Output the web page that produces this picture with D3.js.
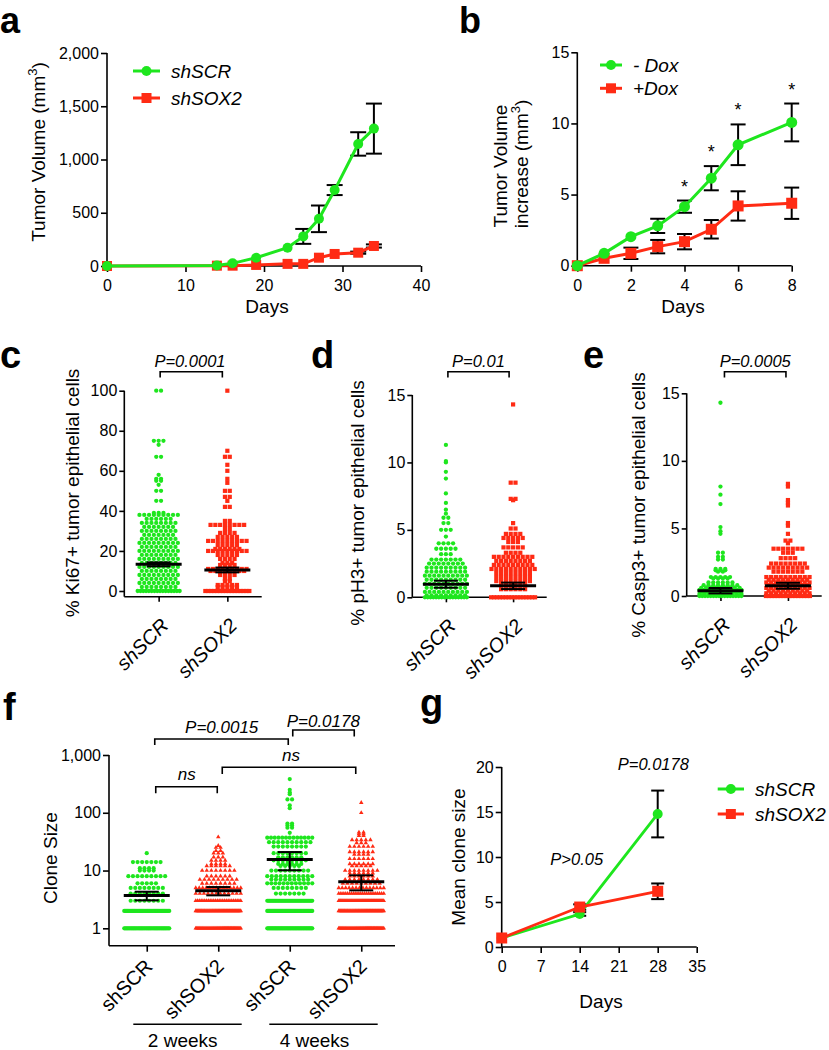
<!DOCTYPE html>
<html><head><meta charset="utf-8">
<script src="https://cdn.jsdelivr.net/npm/d3@7"></script>
<style>
body{margin:0;background:#fff}
svg text{font-family:"Liberation Sans",Arial,sans-serif;fill:#000}
</style></head><body>
<svg id="fig" width="829" height="1050" xmlns="http://www.w3.org/2000/svg"></svg>
<script>
// ---------- DATA ----------
// panel a
const aDays = [0, 14, 16, 19, 23, 25, 27, 29, 32, 34];
const aSCR = [0, 5, 25, 78, 172, 278, 443, 713, 1146, 1290];
const aSCRerr = [0, 0, 0, 0, 0, 70, 125, 47, 110, 235];
const aSOX2 = [0, 3, 3, 10, 20, 20, 78, 113, 125, 188];
const aSOX2err = [0, 0, 0, 0, 0, 0, 0, 0, 10, 15];
const aXTicks = [0, 10, 20, 30, 40];
const aYTicks = [0, 500, 1000, 1500, 2000];
// panel b
const bDays = [0, 1, 2, 3, 4, 5, 6, 8];
const bMinusDox = [0, 0.87, 2.04, 2.8, 4.15, 6.15, 8.5, 10.07];
const bMinusErr = [0, 0, 0, 0.5, 0.43, 0.85, 1.43, 1.33];
const bPlusDox = [0, 0.52, 0.87, 1.34, 1.69, 2.56, 4.2, 4.39];
const bPlusErr = [0, 0, 0.4, 0.47, 0.54, 0.65, 1.03, 1.1];
const bStarDays = [4, 5, 6, 8];
const bXTicks = [0, 2, 4, 6, 8];
const bYTicks = [0, 5, 10, 15];
// panels c, d, e : [value, number of cells at that value]
const groups2 = ["shSCR", "shSOX2"];
const ki67SCR = [[100,2],[75,3],[73,1],[67,2],[58,1],[56,2],[55,2],[53,1],[50,2],[45,2],
  [39,3],[38,9],[36,6],[34,8],[32,7],[30,8],[28,7],[26,8],[24,9],[22,8],[20,9],[18,8],[16,9],
  [14,8],[12,9],[10,8],[8,9],[6,8],[4,9],[2,8],[0,16]];
const ki67SOX2 = [[100,1],[70,1],[67,2],[63,1],[60,1],[56,1],[54,1],[50,2],[47,2],[45,1],[42,2],
  [35,2],[33,8],[31,2],[29,4],[27,5],[25,9],[23,5],[21,6],[20,9],[18,5],[16,4],[14,3],
  [13,4],[11,9],[10,8],[8,4],[6,2],[5,2],[3,5],[2,5],[0,16]];
const ki67Mean = [13.3, 10.5], ki67Sem = [1.0, 1.2];
const ki67Ticks = [0, 20, 40, 60, 80, 100];
const ph3SCR = [[11.3,1],[10.1,1],[10,1],[9.3,1],[8.8,1],[7.7,1],[7,1],[6.5,1],[6.2,1],[5.9,2],[5.5,2],
  [5,3],[4.5,1],[4,4],[3.6,5],[3.2,3],[2.8,7],[2.5,8],[2.2,9],[1.9,9],[1.6,10],[1.3,9],
  [1.0,10],[0.7,9],[0.4,10],[0.15,9],[0,16]];
const ph3SOX2 = [[14.3,1],[8.5,2],[7.3,2],[7.2,1],[5.5,1],[5.1,2],[4.7,4],[4.4,5],[4.1,3],
  [3.7,5],[3.3,4],[3.0,9],[2.7,8],[2.4,9],[2.1,10],[1.8,8],[1.5,8],[1.2,8],[0.9,6],[0.6,6],[0,16]];
const ph3Mean = [0.97, 0.85], ph3Sem = [0.26, 0.24];
const casp3SCR = [[14.3,1],[8.1,1],[7.5,1],[6.8,1],[5.1,1],[4.8,1],[4.6,1],[3.2,2],[2.9,2],[2.7,2],
  [2.0,3],[1.9,3],[1.8,2],[1.4,5],[1.3,4],[1.0,6],[0.8,8],[0.6,9],[0.45,10],[0.3,9],[0.15,10],[0,16]];
const casp3SOX2 = [[8.3,1],[8.1,1],[7.1,1],[6.9,1],[6.7,1],[5.4,1],[5.2,1],[4.6,1],[4.1,2],[3.9,1],
  [3.5,7],[3.2,3],[2.8,4],[2.4,8],[2.1,9],[1.8,7],[1.4,10],[1.2,9],[1.0,10],[0.8,9],
  [0.6,10],[0.4,9],[0.2,10],[0,16]];
const casp3Mean = [0.39, 0.76], casp3Sem = [0.2, 0.22];
const smallTicks = [0, 5, 10, 15];
// panel f : clone sizes [size, number of clones]
const fGroups = ["shSCR 2w", "shSOX2 2w", "shSCR 4w", "shSOX2 4w"];
const fLabels = ["shSCR", "shSOX2", "shSCR", "shSOX2"];
const clone2wSCR = [[20,1],[14,7],[11,4],[10,4],[8,9],[6,5],[5,8],[4,8],[3,8],[2,40],[1,40]];
const clone2wSOX2 = [[38,1],[27,1],[25,2],[22,2],[20,3],[17,3],[15,4],[13,4],[12,6],[10,8],
  [8,6],[7,9],[6,8],[5,14],[4,12],[3,26],[2,45],[1,45]];
const clone4wSCR = [[383,1],[250,1],[225,1],[210,1],[170,2],[135,1],[120,1],[65,2],[60,2],[55,2],[45,1],
  [37,13],[31,10],[26,8],[20,8],[17,6],[15,8],[13,6],[12,5],[10,9],[8,11],[7,9],[6,12],[5,8],[4,7],
  [3,45],[2,45],[1,45]];
const clone4wSOX2 = [[150,1],[100,1],[46,2],[43,2],[40,2],[34,5],[30,3],[26,6],[21,6],[19,4],[16,6],
  [13,6],[12,5],[10,8],[9,6],[8,6],[7,8],[6,9],[5,14],[4,22],[3,45],[2,45],[1,45]];
const fMean = [3.7, 4.47, 15.6, 6.4];
const fLow = [3.05, 3.72, 10.1, 4.54];
const fHigh = [4.3, 5.18, 20.9, 8.26];
const fTicks = [1, 10, 100, 1000];
// panel g
const gDays = [0, 14, 28];
const gSCR = [1, 3.67, 14.78], gSCRerr = [0, 0.2, 2.6];
const gSOX2 = [1, 4.44, 6.19], gSOX2err = [0, 0.3, 0.87];
const gXTicks = [0, 7, 14, 21, 28, 35];
const gYTicks = [0, 5, 10, 15, 20];

// ---------- STYLE ----------
const GREEN = "#1ee61e", RED = "#ff2b14";
const FONT = '"Liberation Sans", Arial, sans-serif';
const svg = d3.select("#fig");

function txt(g, x, y, s, opts = {}) {
  const t = g.append("text").attr("x", x).attr("y", y).text(s)
    .attr("font-size", opts.size || 19)
    .attr("text-anchor", opts.anchor || "start");
  if (opts.italic) t.attr("font-style", "italic");
  if (opts.bold) t.attr("font-weight", "bold");
  if (opts.rotate !== undefined) t.attr("transform", `rotate(${opts.rotate},${x},${y})`);
  return t;
}
function styleAxis(ax) {
  ax.attr("font-size", 16).attr("font-family", FONT);
  ax.select(".domain").remove();
  ax.selectAll(".tick line").attr("stroke", "#000").attr("stroke-width", 1.6);
  ax.selectAll(".tick text").attr("fill", "#000");
}
function yAxis(g, scale, x, ticks, fmt, yTop, yBot, tick = 6, pad = 2) {
  const ax = g.append("g").attr("transform", `translate(${x},0)`)
    .call(d3.axisLeft(scale).tickValues(ticks).tickFormat(fmt).tickSize(tick).tickPadding(pad).tickSizeOuter(0));
  styleAxis(ax);
  g.append("line").attr("x1", x).attr("x2", x).attr("y1", yTop).attr("y2", yBot)
    .attr("stroke", "#000").attr("stroke-width", 1.6);
}
function xAxis(g, scale, y, ticks, fmt, xL, xR, tick = 6, pad = 8) {
  const axis = d3.axisBottom(scale).tickSize(tick).tickPadding(pad).tickSizeOuter(0).tickFormat(fmt);
  if (ticks) axis.tickValues(ticks);
  const ax = g.append("g").attr("transform", `translate(0,${y})`).call(axis);
  styleAxis(ax);
  g.append("line").attr("x1", xL).attr("x2", xR).attr("y1", y).attr("y2", y)
    .attr("stroke", "#000").attr("stroke-width", 1.6);
}
function errBars(g, xs, ys, means, errs, xsVals, cap) {
  means.forEach((m, i) => {
    const e = errs[i]; if (!e) return;
    const x = xs(xsVals[i]);
    const y1 = ys(m - e), y2 = ys(m + e);
    g.append("line").attr("x1", x).attr("x2", x).attr("y1", y1).attr("y2", y2).attr("stroke", "#000").attr("stroke-width", 2);
    [y1, y2].forEach(yy => g.append("line").attr("x1", x - cap).attr("x2", x + cap).attr("y1", yy).attr("y2", yy)
      .attr("stroke", "#000").attr("stroke-width", 2));
  });
}
function series(g, xs, ys, xv, yv, color, shape, size, lw = 3) {
  const pts = xv.map((d, i) => [d, yv[i]]);
  g.append("path").attr("d", d3.line().x(d => xs(d[0])).y(d => ys(d[1]))(pts))
    .attr("fill", "none").attr("stroke", color).attr("stroke-width", lw);
  const sel = g.selectAll(null).data(pts);
  if (shape === "circle") {
    sel.enter().append("circle").attr("cx", d => xs(d[0])).attr("cy", d => ys(d[1])).attr("r", size / 2).attr("fill", color);
  } else {
    sel.enter().append("rect").attr("x", d => xs(d[0]) - size / 2).attr("y", d => ys(d[1]) - size / 2)
      .attr("width", size).attr("height", size).attr("fill", color);
  }
}
function legendItem(g, x1, x2, y, color, shape, size, label, fs = 19) {
  g.append("line").attr("x1", x1).attr("x2", x2).attr("y1", y).attr("y2", y).attr("stroke", color).attr("stroke-width", 3);
  const cx = (x1 + x2) / 2;
  if (shape === "circle") g.append("circle").attr("cx", cx).attr("cy", y).attr("r", size / 2).attr("fill", color);
  else g.append("rect").attr("x", cx - size / 2).attr("y", y - size / 2).attr("width", size).attr("height", size).attr("fill", color);
  txt(g, x2 + 11, y + 7, label, { italic: true, size: fs });
}
function bracket(g, x1, x2, yTop, yBot) {
  g.append("path").attr("d", `M${x1},${yBot}V${yTop}H${x2}V${yBot}`).attr("fill", "none")
    .attr("stroke", "#000").attr("stroke-width", 1.6);
}
// swarm rows: horizontal rows of markers centred at cx, compressed when too wide
function swarmPoints(rows, cx, ys, halfW, spacing) {
  const pts = [];
  rows.forEach(([v, n]) => {
    let sp = spacing;
    if ((n - 1) * sp > 2 * halfW) sp = 2 * halfW / (n - 1);
    for (let i = 0; i < n; i++) pts.push({ x: cx - (n - 1) * sp / 2 + i * sp, y: ys(v) });
  });
  return pts;
}
function drawPts(g, pts, shape, color, size) {
  const sel = g.selectAll(null).data(pts).enter();
  if (shape === "circle") sel.append("circle").attr("cx", d => d.x).attr("cy", d => d.y).attr("r", size / 2).attr("fill", color);
  else if (shape === "square") sel.append("rect").attr("x", d => d.x - size / 2).attr("y", d => d.y - size / 2).attr("width", size).attr("height", size).attr("fill", color);
  else sel.append("path").attr("d", d3.symbol(d3.symbolTriangle, size * size * 0.5)).attr("transform", d => `translate(${d.x},${d.y})`).attr("fill", color);
}
function meanSem(g, cx, ys, m, lo, hi, halfW = 23, cap = 12) {
  g.append("line").attr("x1", cx).attr("x2", cx).attr("y1", ys(lo)).attr("y2", ys(hi)).attr("stroke", "#000").attr("stroke-width", 2);
  [lo, hi].forEach(v => g.append("line").attr("x1", cx - cap).attr("x2", cx + cap).attr("y1", ys(v)).attr("y2", ys(v)).attr("stroke", "#000").attr("stroke-width", 2));
  g.append("line").attr("x1", cx - halfW).attr("x2", cx + halfW).attr("y1", ys(m)).attr("y2", ys(m)).attr("stroke", "#000").attr("stroke-width", 3);
}
function yLabel(g, x, y, s, size = 19) {
  return txt(g, x, y, s, { anchor: "middle", rotate: -90, size });
}

// ---------- PANEL a ----------
{
  const g = svg.append("g");
  const xs = d3.scaleLinear([0, 40], [107, 421]);
  const ys = d3.scaleLinear([0, 2000], [266, 53]);
  yAxis(g, ys, 107, aYTicks, d3.format(","), 53, 266);
  xAxis(g, xs, 266, aXTicks, d3.format("d"), 107, 421);
  errBars(g, xs, ys, aSCR, aSCRerr, aDays, 8);
  errBars(g, xs, ys, aSOX2, aSOX2err, aDays, 8);
  series(g, xs, ys, aDays, aSOX2, RED, "square", 10);
  series(g, xs, ys, aDays, aSCR, GREEN, "circle", 10);
  legendItem(g, 133, 160, 71, GREEN, "circle", 10, "shSCR");
  legendItem(g, 133, 160, 98, RED, "square", 10, "shSOX2");
  txt(g, 267, 313, "Days", { anchor: "middle" });
  const t = yLabel(g, 45, 152, "Tumor Volume (mm");
  t.append("tspan").text("3").attr("font-size", 13).attr("dy", -8);
  t.append("tspan").text(")").attr("font-size", 19).attr("dy", 8);
  txt(g, 0, 33, "a", { bold: true, size: 36 });
}
// ---------- PANEL b ----------
{
  const g = svg.append("g");
  const xs = d3.scaleLinear([0, 8], [577.3, 791.7]);
  const ys = d3.scaleLinear([0, 15], [265.7, 52.3]);
  yAxis(g, ys, 577.3, bYTicks, d3.format("d"), 52.3, 265.7);
  xAxis(g, xs, 265.7, bXTicks, d3.format("d"), 577.3, 791.7);
  errBars(g, xs, ys, bMinusDox, bMinusErr, bDays, 7.5);
  errBars(g, xs, ys, bPlusDox, bPlusErr, bDays, 7.5);
  series(g, xs, ys, bDays, bPlusDox, RED, "square", 11);
  series(g, xs, ys, bDays, bMinusDox, GREEN, "circle", 11);
  bStarDays.forEach(d => {
    const i = bDays.indexOf(d);
    txt(g, xs(d), ys(bMinusDox[i] + bMinusErr[i]) - 8, "*", { anchor: "middle", size: 18 });
  });
  legendItem(g, 600, 622, 65, GREEN, "circle", 10, "- Dox");
  legendItem(g, 600, 622, 88.3, RED, "square", 10, "+Dox");
  txt(g, 683, 313, "Days", { anchor: "middle" });
  yLabel(g, 507, 166, "Tumor Volume");
  const t = yLabel(g, 528, 164, "increase (mm");
  t.append("tspan").text("3").attr("font-size", 13).attr("dy", -8);
  t.append("tspan").text(")").attr("font-size", 19).attr("dy", 8);
  txt(g, 459, 33, "b", { bold: true, size: 36 });
}
// ---------- PANELS c, d, e ----------
function dotPanel(cfg) {
  const g = svg.append("g");
  const xs = d3.scalePoint(groups2, [cfg.xL, cfg.xR]).padding(0.5);
  const ys = d3.scaleLinear(cfg.yDom, [cfg.y0, cfg.yTop]);
  yAxis(g, ys, cfg.xL, cfg.yTicks, d3.format("d"), cfg.yTop, cfg.axisY, 5, 2);
  xAxis(g, xs, cfg.axisY, null, "", cfg.xL, cfg.xR, 5, 2);
  drawPts(g, swarmPoints(cfg.scr, xs("shSCR"), ys, 21, 4.8), "circle", GREEN, 4.3);
  drawPts(g, swarmPoints(cfg.sox, xs("shSOX2"), ys, 22, 4.8), "square", RED, 4.2);
  groups2.forEach((k, i) => meanSem(g, xs(k), ys, cfg.mean[i], cfg.mean[i] - cfg.sem[i], cfg.mean[i] + cfg.sem[i], 23, 12));
  groups2.forEach(k => txt(g, xs(k) + 11, cfg.axisY + 30, k, { anchor: "end", rotate: -45, italic: true, size: 20 }));
  bracket(g, xs("shSCR") + cfg.bOff[0], xs("shSOX2") + cfg.bOff[1], 371.7, 377.5);
  txt(g, (xs("shSCR") + xs("shSOX2")) / 2 + cfg.pOff, 366.5, cfg.p, { anchor: "middle", italic: true, size: 16.5 });
  yLabel(g, cfg.labX, cfg.labY, cfg.label);
  txt(g, cfg.letterX, 368, cfg.letter, { bold: true, size: 38 });
}
dotPanel({ xL: 124.3, xR: 261.7, yDom: [0, 100], y0: 591, yTop: 390.7, axisY: 596.7, yTicks: ki67Ticks,
  scr: ki67SCR, sox: ki67SOX2, mean: ki67Mean, sem: ki67Sem, p: "P=0.0001", pOff: -3, bOff: [1.5, -5],
  label: "% Ki67+ tumor epithelial cells", labX: 79, labY: 493, letter: "c", letterX: 0 });
dotPanel({ xL: 412.3, xR: 546.7, yDom: [0, 15], y0: 597.3, yTop: 395, axisY: 597.3, yTicks: smallTicks,
  scr: ph3SCR, sox: ph3SOX2, mean: ph3Mean, sem: ph3Sem, p: "P=0.01", pOff: -1, bOff: [2, -4],
  label: "% pH3+  tumor epithelial cells", labX: 364, labY: 503, letter: "d", letterX: 311 });
dotPanel({ xL: 686.7, xR: 821.7, yDom: [0, 15], y0: 596, yTop: 393.3, axisY: 596, yTicks: smallTicks,
  scr: casp3SCR, sox: casp3SOX2, mean: casp3Mean, sem: casp3Sem, p: "P=0.0005", pOff: 1, bOff: [4, -2],
  label: "% Casp3+ tumor epithelial cells", labX: 645, labY: 505, letter: "e", letterX: 583 });
// ---------- PANEL f ----------
{
  const g = svg.append("g");
  const xs = d3.scalePoint(fGroups, [111, 397]).padding(0.5);
  const ys = d3.scaleLog([0.5, 1000], [945.7, 755]);
  yAxis(g, ys, 109, fTicks, d3.format(","), 755, 945.7, 6, 2);
  xAxis(g, xs, 945.7, null, "", 109, 395, 6, 2);
  const data = [clone2wSCR, clone2wSOX2, clone4wSCR, clone4wSOX2];
  data.forEach((rows, i) => {
    const pts = swarmPoints(rows, xs(fGroups[i]), ys, 22.5, 4.6);
    drawPts(g, pts, i % 2 === 0 ? "circle" : "triangle", i % 2 === 0 ? GREEN : RED, 4.2);
  });
  fGroups.forEach((k, i) => meanSem(g, xs(k), ys, fMean[i], fLow[i], fHigh[i], 23, 12));
  fGroups.forEach((k, i) => txt(g, xs(k) + 7, 945.7 + 22, fLabels[i], { anchor: "end", rotate: -45, size: 20 }));
  const c = fGroups.map(k => xs(k));
  bracket(g, c[0] + 8, c[2] - 1.5, 739, 745);
  txt(g, 221.7, 733, "P=0.0015", { anchor: "middle", italic: true, size: 17 });
  bracket(g, c[2] + 3, c[3] - 7, 730, 736.5);
  txt(g, 323.3, 726.5, "P=0.0178", { anchor: "middle", italic: true, size: 17 });
  bracket(g, c[0] + 9, c[1] - 1, 786.7, 793.3);
  txt(g, 186.7, 780, "ns", { anchor: "middle", italic: true, size: 17 });
  bracket(g, c[1] + 4, c[3] - 5.5, 767.3, 774);
  txt(g, 291, 760.5, "ns", { anchor: "middle", italic: true, size: 17 });
  g.append("line").attr("x1", 133.3).attr("x2", 241.7).attr("y1", 1024.3).attr("y2", 1024.3).attr("stroke", "#000").attr("stroke-width", 1.6);
  g.append("line").attr("x1", 269.3).attr("x2", 377.7).attr("y1", 1024.3).attr("y2", 1024.3).attr("stroke", "#000").attr("stroke-width", 1.6);
  txt(g, 182.7, 1047, "2 weeks", { anchor: "middle" });
  txt(g, 314.5, 1047, "4 weeks", { anchor: "middle" });
  yLabel(g, 56.5, 858, "Clone Size");
  txt(g, 3, 720, "f", { bold: true, size: 38 });
}
// ---------- PANEL g ----------
{
  const g = svg.append("g");
  const xs = d3.scaleLinear([0, 35], [501.7, 696.7]);
  const ys = d3.scaleLinear([0, 20], [947, 767]);
  yAxis(g, ys, 501.7, gYTicks, d3.format("d"), 767, 947);
  xAxis(g, xs, 947, gXTicks, d3.format("d"), 501.7, 696.7, 6, 8);
  errBars(g, xs, ys, gSCR, gSCRerr, gDays, 6.5);
  errBars(g, xs, ys, gSOX2, gSOX2err, gDays, 6.5);
  series(g, xs, ys, gDays, gSCR, GREEN, "circle", 10, 2.8);
  series(g, xs, ys, gDays, gSOX2, RED, "square", 11, 2.8);
  txt(g, 653.3, 770, "P=0.0178", { anchor: "middle", italic: true, size: 16.5 });
  txt(g, 576.7, 865, "P>0.05", { anchor: "middle", italic: true, size: 16.5 });
  legendItem(g, 717.7, 744, 789, GREEN, "circle", 10, "shSCR");
  legendItem(g, 717.7, 744, 814, RED, "square", 10, "shSOX2");
  txt(g, 601, 1008, "Days", { anchor: "middle" });
  yLabel(g, 464.5, 857, "Mean clone size");
  txt(g, 420, 716, "g", { bold: true, size: 38 });
}
</script>
</body></html>
